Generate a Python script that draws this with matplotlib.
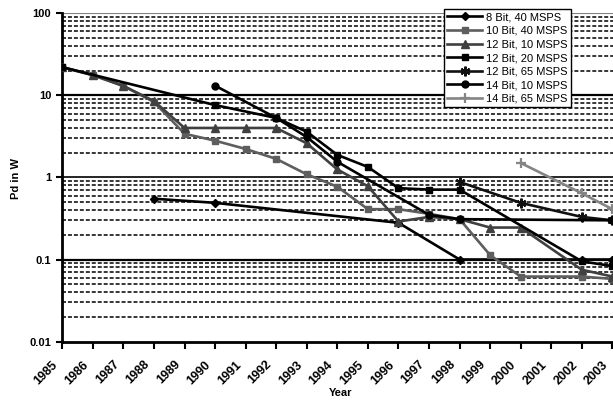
import numpy as np
import matplotlib
matplotlib.use("Agg")
import matplotlib.pyplot as plt
from matplotlib.transforms import ScaledTranslation

# -------------------------------
# Data
# -------------------------------
YEARS = list(range(1985, 2004))
YEAR_LABELS = [str(y) for y in YEARS]

SERIES_NAMES = ["8 Bit, 40 MSPS", "10 Bit, 40 MSPS", "12 Bit, 10 MSPS", "12 Bit, 20 MSPS",
                "12 Bit, 65 MSPS", "14 Bit, 10 MSPS", "14 Bit, 65 MSPS"]

N = None
bit8_40 = [N, N, N, 0.55, N, 0.49, N, N, N, N, N, 0.28, N, 0.1, N, N, N, 0.1, 0.1]
bit10_40 = [22, 17.5, 13, 8.3, 3.4, 2.8, 2.22, 1.68, 1.09, 0.77, 0.41, 0.41, 0.36, 0.31, 0.113, 0.062, N, 0.062, 0.058]
bit12_10 = [22, 17.7, 13, 8.5, 4.0, 4.0, 4.0, 4.0, 2.6, 1.25, 0.78, 0.29, 0.33, 0.31, 0.245, 0.245, N, 0.075, 0.062]
bit12_20 = [22, N, N, N, N, 7.6, N, 5.3, 3.6, 1.88, 1.34, 0.74, 0.71, 0.71, N, N, N, 0.095, 0.083]
bit12_65 = [N, N, N, N, N, N, N, N, N, N, N, N, N, 0.88, N, 0.49, N, 0.33, 0.3]
bit14_10 = [N, N, N, N, N, 13.1, N, 5.3, 3.1, 1.55, N, N, 0.35, 0.31, N, N, N, N, 0.3]
bit14_65 = [N, N, N, N, N, N, N, N, N, N, N, N, N, N, N, 1.5, N, 0.64, 0.41]

ALL_SERIES = [bit8_40, bit10_40, bit12_10, bit12_20, bit12_65, bit14_10, bit14_65]

# styles
COLORS = ["#000000", "#5e5e5e", "#404040", "#000000", "#111111", "#000000", "#858585"]
MARKERS = ["D", "s", "^", "s", (6, 2, 0), "o", "+"]
MSIZES = [4, 5, 6, 5, 7, 5, 7]

FONT = "Liberation Sans"
plt.rcParams["font.family"] = [FONT, "DejaVu Sans"]

# -------------------------------
# Figure
# -------------------------------
fig = plt.figure(figsize=(6.13, 4.00), dpi=100)
ax = fig.add_axes([0.1016, 0.146, 0.8984, 0.821])
ax.set_yscale("log")
ax.set_ylim(0.01, 100)
ax.set_xlim(YEARS[0], YEARS[-1] + 0.02)

# gridlines: dashed minor, solid major
for dec in [0.01, 0.1, 1, 10]:
    for k in range(2, 10):
        ax.axhline(dec * k, color="black", lw=1.1, ls=(0, (2.6, 1.3)), zorder=1)
for dec in [0.1, 1, 10]:
    ax.axhline(dec, color="black", lw=1.6 if dec != 1 else 1.2, zorder=1)
ax.axhline(100, color="#808080", lw=1.5, zorder=1)

for name, vals, c, m, ms in zip(SERIES_NAMES, ALL_SERIES, COLORS, MARKERS, MSIZES):
    xs = [y for y, v in zip(YEARS, vals) if v is not None]
    ys = [v for v in vals if v is not None]
    mew = 1.6 if m in ["+", (6, 2, 0)] else 1
    ax.plot(xs, ys, color=c, lw=1.9, marker=m, markersize=ms, markeredgewidth=mew,
            label=name, zorder=3)

# axes look
for s in ["top", "right"]:
    ax.spines[s].set_visible(False)
ax.spines["left"].set_linewidth(2)
ax.spines["bottom"].set_linewidth(2)

# x labels: rotated, placed by hand below each tick
ax.set_xticks(YEARS)
ax.set_xticklabels([])
ax.tick_params(axis="x", direction="out", length=5, width=1.5)
lab_tr = ax.get_xaxis_transform() + ScaledTranslation(-16 / 100, -31 / 100, fig.dpi_scale_trans)
for yr, lab in zip(YEARS, YEAR_LABELS):
    ax.text(yr, 0, lab, transform=lab_tr, rotation=45, ha="center", va="center",
            fontsize=9, fontweight="bold", clip_on=False)

ax.set_yticks([0.01, 0.1, 1, 10, 100])
ax.set_yticklabels(["0.01", "0.1", "1", "10", "100"], fontsize=8, fontweight="bold")
ax.tick_params(axis="y", which="major", direction="out", length=4, width=1.5, pad=4)
ax.tick_params(axis="y", which="minor", length=0)

fig.text(0.555, 0.018, "Year", ha="center", va="center", fontsize=8, fontweight="bold")
fig.text(0.026, 0.553, "Pd in W", ha="center", va="center", rotation=90,
         fontsize=8, fontweight="bold")

leg = ax.legend(loc="upper left", bbox_to_anchor=(444 / 613, 1 - 9 / 400),
                bbox_transform=fig.transFigure, fontsize=8, frameon=True,
                fancybox=False, edgecolor="black", framealpha=1,
                handlelength=3.1, labelspacing=0.32, borderpad=0.3,
                handletextpad=0.4, borderaxespad=0)
leg.get_frame().set_linewidth(1.0)
leg.set_zorder(5)

fig.savefig("out.png", dpi=100)
